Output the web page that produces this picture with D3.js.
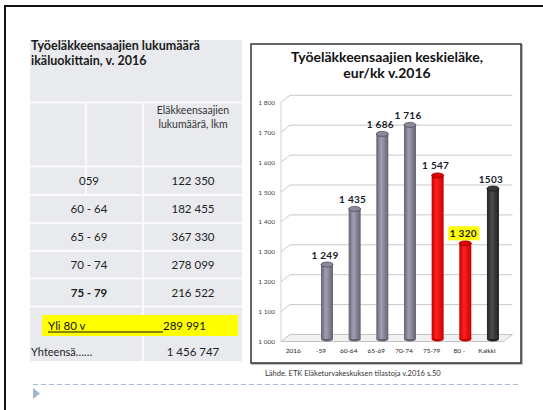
<!DOCTYPE html>
<html><head><meta charset="utf-8">
<script src="https://cdn.jsdelivr.net/npm/d3@7"></script>
<style>html,body{margin:0;padding:0;background:#fff;} svg{display:block;font-family:Lato,"Open Sans",sans-serif;}</style>
</head><body><svg id="c" width="543" height="410"></svg>
<script>
// ---- data ----
const categories = ["2016", "-59", "60-64", "65-69", "70-74", "75-79", "80 -", "Kaikki"];
const pensions = [null, 1249, 1435, 1686, 1716, 1547, 1320, 1503];
const pensionLabels = ["", "1 249", "1 435", "1 686", "1 716", "1 547", "1 320", "1503"];
const barGroups = ["", "gray", "gray", "gray", "gray", "red", "red", "dark"];
const yTicks = [1000, 1100, 1200, 1300, 1400, 1500, 1600, 1700, 1800];
const yTickLabels = ["1 000", "1 100", "1 200", "1 300", "1 400", "1 500", "1 600", "1 700", "1 800"];
const ageGroups = ["059", "60 - 64", "65 - 69", "70 - 74", "75 - 79"];
const ageCounts = ["122 350", "182 455", "367 330", "278 099", "216 522"];
const over80Label = "Yli 80 v";
const over80Count = "289 991";
const totalLabel = "Yhteensä……";
const totalCount = "1 456 747";

const svg = d3.select("#c");

// outer slide frame
svg.append("line").attr("x1",4).attr("x2",543).attr("y1",6).attr("y2",6).attr("stroke","#111").attr("stroke-width",2);
svg.append("line").attr("x1",5).attr("x2",5).attr("y1",5).attr("y2",410).attr("stroke","#111").attr("stroke-width",2);

// ---- left table ----
const tg = svg.append("g");
tg.append("rect").attr("x",30).attr("y",40).attr("width",212).attr("height",321).attr("fill","#e9eaee");
const white = (x1,y1,x2,y2)=>tg.append("line").attr("x1",x1).attr("y1",y1).attr("x2",x2).attr("y2",y2).attr("stroke","#fff").attr("stroke-width",1.5);
white(30,102.5,242,102.5);
const rowEdges = [166.5, 195, 223, 251, 278.5, 306.5];
rowEdges.forEach(y=>white(30,y,242,y));
white(143,102.5,143,361);
white(86,102.5,86,195);
tg.append("text").attr("x",31).attr("y",50).attr("font-weight","bold").attr("font-size",12.5).attr("fill","#1a1a1a").text("Työeläkkeensaajien  lukumäärä");
tg.append("text").attr("x",31).attr("y",64.5).attr("font-weight","bold").attr("font-size",12.5).attr("fill","#1a1a1a").text("ikäluokittain, v. 2016");
tg.append("text").attr("x",193).attr("y",113.5).attr("text-anchor","middle").attr("font-size",10.5).attr("fill","#333").text("Eläkkeensaajien");
tg.append("text").attr("x",193).attr("y",128).attr("text-anchor","middle").attr("font-size",10.5).attr("fill","#333").text("lukumäärä, lkm");
ageGroups.forEach((g,i)=>{
  const yc = (rowEdges[i]+rowEdges[i+1])/2 + 4;
  tg.append("text").attr("x",89).attr("y",yc).attr("text-anchor","middle").attr("font-size",11.5)
    .attr("font-weight", i===4?"bold":"normal").attr("fill","#222").text(g);
  tg.append("text").attr("x",193).attr("y",yc).attr("text-anchor","middle").attr("font-size",11.5).attr("fill","#222").text(ageCounts[i]);
});
tg.append("rect").attr("x",42).attr("y",315).attr("width",196).attr("height",21).attr("fill","#ffff00");
tg.append("text").attr("x",48).attr("y",330).attr("font-size",11.5).attr("fill","#111").text(over80Label);
tg.append("line").attr("x1",48).attr("x2",163).attr("y1",332).attr("y2",332).attr("stroke","#111").attr("stroke-width",1);
tg.append("text").attr("x",163).attr("y",330).attr("font-size",11.5).attr("fill","#111").text(over80Count);
tg.append("text").attr("x",31).attr("y",356).attr("font-size",11).attr("fill","#222").text(totalLabel);
tg.append("text").attr("x",193).attr("y",356).attr("text-anchor","middle").attr("font-size",11.5).attr("fill","#222").text(totalCount);

// ---- chart box ----
svg.append("rect").attr("x",252).attr("y",45).attr("width",270).attr("height",319).attr("fill","none").attr("stroke","#aaa").attr("stroke-width",1.5);
svg.append("rect").attr("x",251).attr("y",44).attr("width",270).attr("height",319).attr("fill","#fff").attr("stroke","#333").attr("stroke-width",1.5);
svg.append("text").attr("x",387).attr("y",62).attr("text-anchor","middle").attr("font-weight","bold").attr("font-size",14).attr("fill","#111").text("Työeläkkeensaajien keskieläke,");
svg.append("text").attr("x",387).attr("y",78).attr("text-anchor","middle").attr("font-weight","bold").attr("font-size",14).attr("fill","#111").text("eur/kk v.2016");

// scales
const yl = d3.scaleLinear().domain([1000,1800]).range([341.5,102.3]); // front/label scale
const ys = v => yl(v) - 2.5; // bar scale (mid-depth)
const x = d3.scaleBand().domain(categories).range([285.5,506.8]).padding(0);
const dx = 9, dy = -7, wallX = 281, rightX = 503.5;

const cg = svg.append("g");
// floor
cg.append("polygon").attr("points",[[wallX,yl(1000)],[wallX+dx,yl(1000)+dy],[rightX+dx,yl(1000)+dy],[rightX,yl(1000)]].map(p=>p.join(",")).join(" "))
  .attr("fill","#f1f1f1").attr("stroke","#c4c4c4").attr("stroke-width",1);
// left wall
cg.append("line").attr("x1",wallX).attr("x2",wallX).attr("y1",yl(1800)).attr("y2",yl(1000)).attr("stroke","#d0d0d0");
// gridlines
yTicks.slice(1).forEach(v=>{
  cg.append("path").attr("d",`M${wallX},${yl(v)}L${wallX+dx},${yl(v)+dy}L${rightX+dx},${yl(v)+dy}`)
    .attr("fill","none").attr("stroke","#c8c8c8").attr("stroke-width",1);
});
// y labels
yTicks.forEach((v,i)=>{
  cg.append("text").attr("x",275).attr("y",yl(v)+2.5).attr("text-anchor","end").attr("font-size",6.5).attr("fill","#444").text(yTickLabels[i]);
});
// x labels
categories.forEach(c=>{
  cg.append("text").attr("x",x(c)+x.bandwidth()/2-6).attr("y",353).attr("text-anchor","middle").attr("font-size",6.5).attr("fill","#222").text(c);
});

// gradients
const defs = svg.append("defs");
const palettes = {
  gray:{edge:"#636374", mid:"#a0a0b0", top:"#8a8a9a", stroke:"#4e4e5c"},
  red:{edge:"#c80000", mid:"#ff2020", top:"#e00000", stroke:"#900000"},
  dark:{edge:"#222", mid:"#4e4e4e", top:"#3a3a3a", stroke:"#111"}
};
Object.entries(palettes).forEach(([k,p])=>{
  const g = defs.append("linearGradient").attr("id","g_"+k).attr("x1","0").attr("x2","1").attr("y1","0").attr("y2","0");
  g.append("stop").attr("offset","0%").attr("stop-color",p.edge);
  g.append("stop").attr("offset","40%").attr("stop-color",p.mid);
  g.append("stop").attr("offset","100%").attr("stop-color",p.edge);
});

const bw = 12, ry = 2.5;
categories.forEach((c,i)=>{
  const v = pensions[i];
  if (v == null) return;
  const p = palettes[barGroups[i]];
  const cx = x(c)+x.bandwidth()/2;
  const top = ys(v), bot = ys(1000);
  cg.append("ellipse").attr("cx",cx).attr("cy",bot).attr("rx",bw/2).attr("ry",ry).attr("fill",p.edge);
  cg.append("rect").attr("x",cx-bw/2).attr("y",top).attr("width",bw).attr("height",bot-top).attr("fill",`url(#g_${barGroups[i]})`);
  cg.append("ellipse").attr("cx",cx).attr("cy",top).attr("rx",bw/2).attr("ry",ry).attr("fill",p.top).attr("stroke",p.stroke).attr("stroke-width",0.8);
  const ty = top - 6;
  if (pensionLabels[i]==="1 320") {
    cg.append("rect").attr("x",cx-17).attr("y",ty-11).attr("width",31).attr("height",14).attr("fill","#ffff00");
  }
  cg.append("text").attr("x",cx-2).attr("y",ty).attr("text-anchor","middle").attr("font-weight","bold").attr("font-size",10).attr("letter-spacing",0.3).attr("fill","#1a1a2a").text(pensionLabels[i]);
});

// source
svg.append("text").attr("x",265).attr("y",376).attr("font-size",7.5).attr("fill","#333").text("Lähde. ETK Eläketurvakeskuksen  tilastoja v.2016 s.50");

// dashed line + marker
svg.append("line").attr("x1",33).attr("x2",520).attr("y1",384.5).attr("y2",384.5).attr("stroke","#a9bdd2").attr("stroke-width",1).attr("stroke-dasharray","5,3");
svg.append("polygon").attr("points","33,388 40,393.5 33,399").attr("fill","#a3b6cc");
</script></body></html>
